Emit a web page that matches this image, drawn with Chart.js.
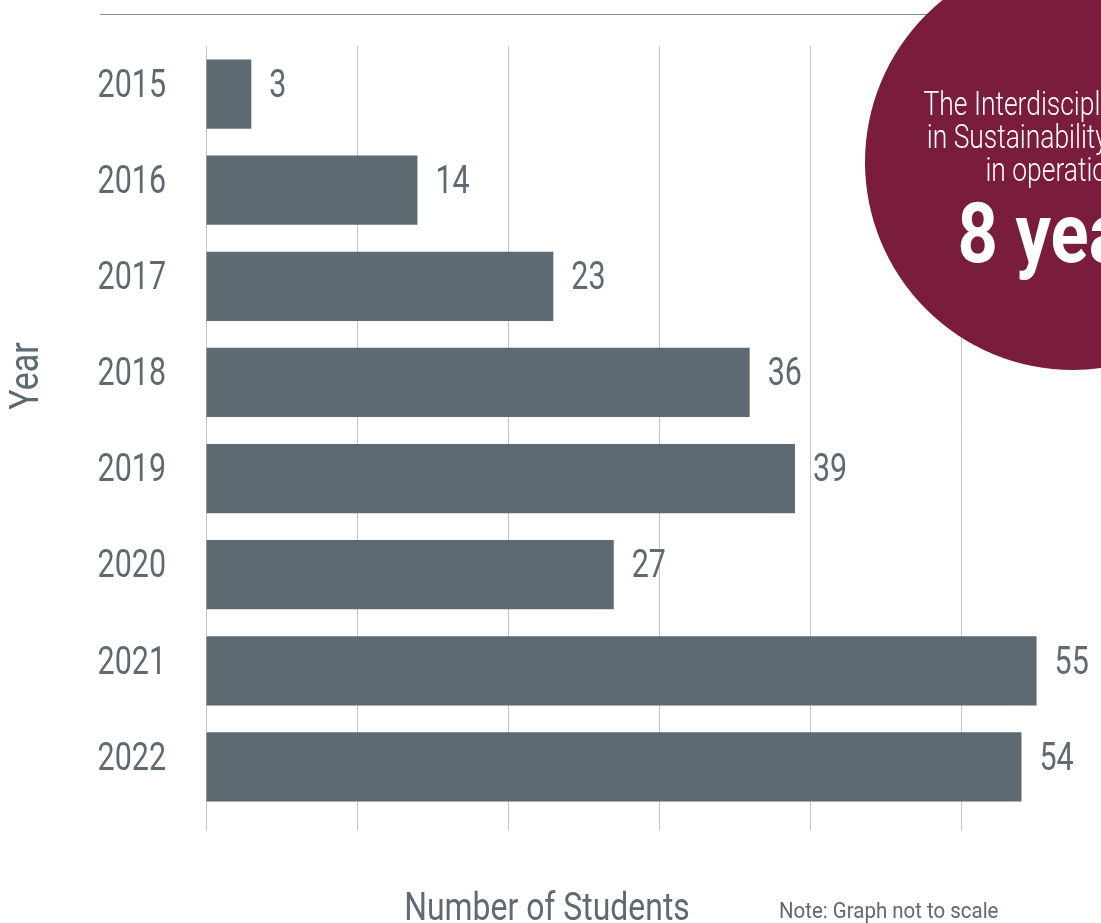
<!DOCTYPE html>
<html>
<head>
<meta charset="utf-8">
<script src="https://cdn.jsdelivr.net/npm/chart.js@4.4.1/dist/chart.umd.min.js"></script>
<style>
  html, body { margin: 0; padding: 0; background: #fff; }
  #wrap { position: relative; width: 1101px; height: 923px; overflow: hidden; }
</style>
</head>
<body>
<div id="wrap"><canvas id="studentsChart" width="1101" height="923"></canvas></div>
<script>
/* ── Data ─────────────────────────────────────────────────────────────── */
const years = ["2015", "2016", "2017", "2018", "2019", "2020", "2021", "2022"];
const students = [3, 14, 23, 36, 39, 27, 55, 54];
const xTicks = [0, 10, 20, 30, 40, 50];

const circleLines = ["The Interdisciplinary Ph.D.", "in Sustainability has been", "in operation for"];
const circleBig = "8 years";

/* ── Look ─────────────────────────────────────────────────────────────── */
const FONT = 'Roboto, "DejaVu Sans Condensed", sans-serif';
const GREY = "#5e6a72";
const MAROON = "#7a1c3c";
const SQUEEZE = 0.78;   // no condensed face installed, so narrow the glyphs

// draw text squeezed horizontally around its anchor point
function narrowText(ctx, text, x, y, sx) {
  ctx.save();
  ctx.translate(x, y);
  ctx.scale(sx, 1);
  ctx.fillText(text, 0, 0);
  ctx.restore();
}

const extras = {
  id: "extras",
  afterDatasetsDraw(chart) {
    const { ctx } = chart;
    const meta = chart.getDatasetMeta(0);
    const yScale = chart.scales.y;

    ctx.save();
    ctx.fillStyle = GREY;
    ctx.font = `39px ${FONT}`;
    ctx.textBaseline = "middle";

    // year labels (category ticks)
    ctx.textAlign = "right";
    yScale.ticks.forEach((t, i) => {
      narrowText(ctx, years[i], yScale.right - 40, yScale.getPixelForTick(i) - 7, SQUEEZE);
    });

    // value labels next to each bar
    ctx.textAlign = "left";
    meta.data.forEach((bar, i) => {
      narrowText(ctx, String(students[i]), bar.x + 18, bar.y - 7, SQUEEZE);
    });
    ctx.restore();
  },
  afterDraw(chart) {
    const { ctx } = chart;
    ctx.save();

    // thin rule at the top
    ctx.strokeStyle = "#8a8a8a";
    ctx.lineWidth = 1;
    ctx.beginPath();
    ctx.moveTo(100, 14.5);
    ctx.lineTo(960, 14.5);
    ctx.stroke();

    // axis titles
    ctx.fillStyle = GREY;
    ctx.font = `40px ${FONT}`;
    ctx.textAlign = "center";
    ctx.textBaseline = "middle";
    ctx.save();
    ctx.translate(28, 376);
    ctx.rotate(-Math.PI / 2);
    narrowText(ctx, "Year", 0, 0, 0.85);
    ctx.restore();

    ctx.font = `38px ${FONT}`;
    ctx.textBaseline = "alphabetic";
    narrowText(ctx, "Number of Students", 547, 920, 0.84);

    ctx.font = `22px ${FONT}`;
    ctx.textAlign = "left";
    narrowText(ctx, "Note: Graph not to scale", 779, 918, 0.93);

    // maroon circle badge
    const cx = 1073, cy = 162, r = 208;
    ctx.fillStyle = MAROON;
    ctx.beginPath();
    ctx.arc(cx, cy, r, 0, Math.PI * 2);
    ctx.fill();

    ctx.fillStyle = "#ffffff";
    ctx.textAlign = "center";
    ctx.font = `300 33px ${FONT}`;
    circleLines.forEach((line, i) => {
      narrowText(ctx, line, cx, 115 + i * 33, 0.8);
    });
    ctx.font = `bold 83px ${FONT}`;
    narrowText(ctx, circleBig, cx, 262, 0.85);

    ctx.restore();
  }
};

new Chart(document.getElementById("studentsChart"), {
  type: "bar",
  data: {
    labels: years,
    datasets: [{
      data: students,
      backgroundColor: GREY,
      borderWidth: 0,
      barPercentage: 0.72,
      categoryPercentage: 1,
    }]
  },
  options: {
    indexAxis: "y",
    responsive: false,
    animation: false,
    layout: { padding: { top: 46, right: 4, left: 0, bottom: 0 } },
    plugins: {
      legend: { display: false },
      tooltip: { enabled: false },
    },
    scales: {
      x: {
        min: 0,
        max: 59,
        afterBuildTicks: (axis) => { axis.ticks = xTicks.map((v) => ({ value: v })); },
        afterFit: (axis) => { axis.height = 108; },
        border: { display: false },
        grid: {
          color: "#c4c4c4",
          lineWidth: 1,
          drawTicks: true,
          tickLength: 15,
        },
        ticks: { display: false },
      },
      y: {
        afterFit: (axis) => { axis.width = 206; },
        border: { display: false },
        grid: { display: false, drawTicks: false },
        ticks: { display: false },
      }
    }
  },
  plugins: [extras]
});
</script>
</body>
</html>
